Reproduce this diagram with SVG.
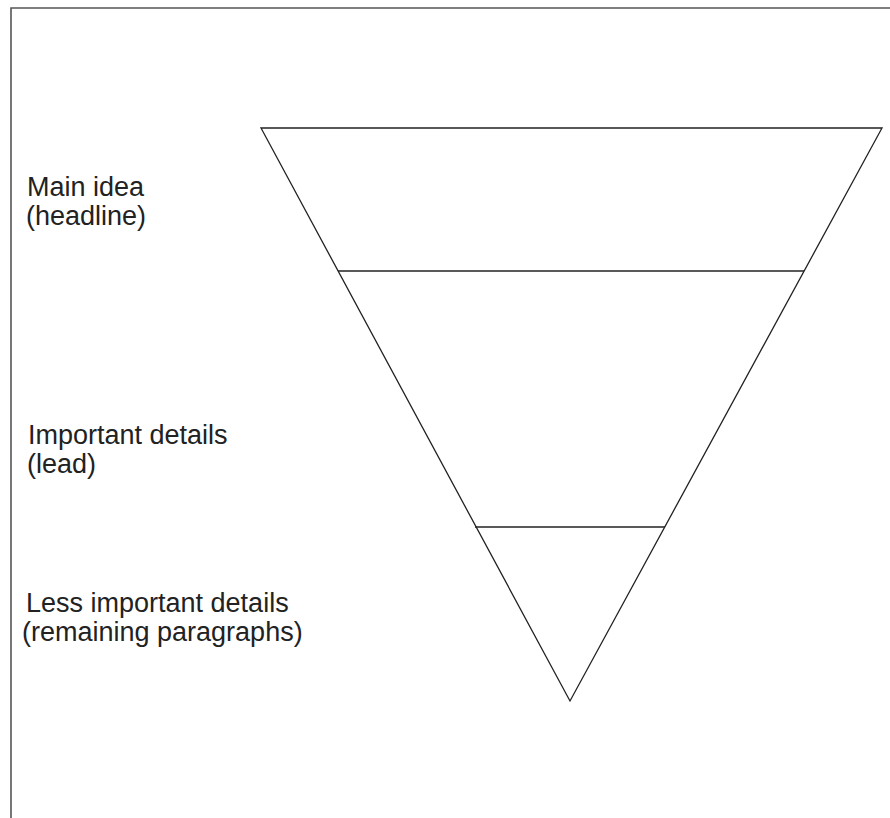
<svg xmlns="http://www.w3.org/2000/svg" width="890" height="818" viewBox="0 0 890 818">
<style>
.lbl{font-family:"Liberation Sans",Arial,sans-serif;font-size:27px;fill:#222}
.ln{stroke:#222;stroke-width:1.3;fill:none}
.frame{stroke:#555;stroke-width:1.6;fill:none}
</style>
<rect width="890" height="818" fill="#fff"/>
<path class="frame" d="M11,818 V8 H890"/>
<g id="funnel">
<polygon class="ln" points="261,128 882,128 570,701"/>
</g>
<g id="connectors">
<line class="ln" x1="338" y1="271" x2="804" y2="271"/>
<line class="ln" x1="475" y1="527" x2="665" y2="527"/>
</g>
<g id="label-main">
<text class="lbl" x="27" y="196">Main idea</text>
<text class="lbl" x="26" y="225">(headline)</text>
</g>
<g id="label-important">
<text class="lbl" x="28" y="444">Important details</text>
<text class="lbl" x="27" y="473">(lead)</text>
</g>
<g id="label-less">
<text class="lbl" x="26" y="612">Less important details</text>
<text class="lbl" x="22" y="641">(remaining paragraphs)</text>
</g>
</svg>
